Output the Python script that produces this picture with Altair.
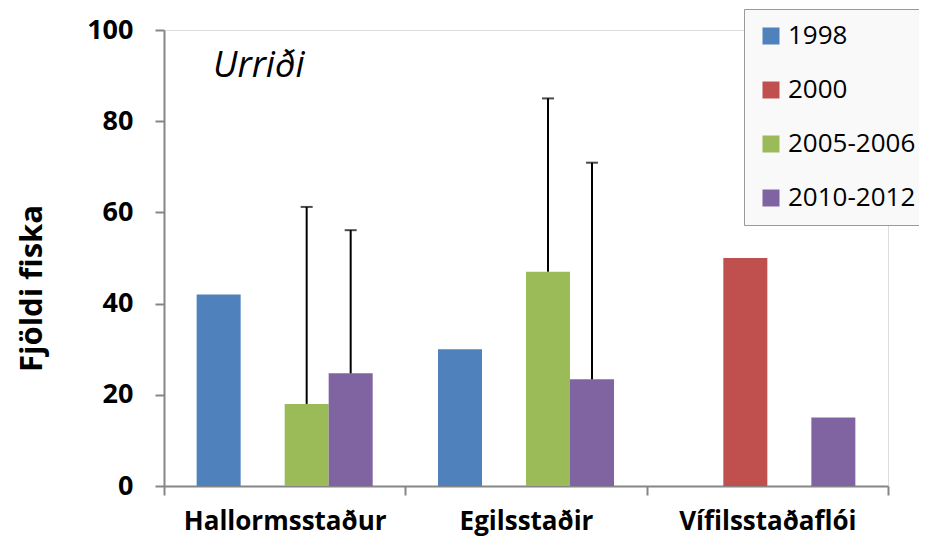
import altair as alt
import pandas as pd

sites = ["Hallormsstaður", "Egilsstaðir", "Vífilsstaðaflói"]
periods = ["1998", "2000", "2005-2006", "2010-2012"]
colors = ["#4F81BD", "#C0504D", "#9BBB59", "#8064A2"]

bar_site = ["Hallormsstaður", "Hallormsstaður", "Hallormsstaður",
            "Egilsstaðir", "Egilsstaðir", "Egilsstaðir",
            "Vífilsstaðaflói", "Vífilsstaðaflói"]
bar_period = ["1998", "2005-2006", "2010-2012",
              "1998", "2005-2006", "2010-2012",
              "2000", "2010-2012"]
bar_value = [42, 18, 24.7, 30, 47, 23.4, 50, 15]
bar_upper = [None, 61.2, 56.1, None, 85.0, 70.9, None, None]

df = pd.DataFrame({"site": bar_site, "period": bar_period,
                   "value": bar_value, "upper": bar_upper})
err = df.dropna(subset=["upper"])

FONT = "Open Sans"

x_enc = alt.X("site:N", sort=sites,
              scale=alt.Scale(domain=sites, paddingInner=0, paddingOuter=0),
              axis=alt.Axis(title=None, labelAngle=0, labelFont=FONT,
                            labelFontSize=26, labelFontWeight="bold",
                            labelColor="black", labelPadding=13, labelLimit=400,
                            tickBand="extent", tickSize=9, tickColor="#868686",
                            tickWidth=2, domainColor="#868686", domainWidth=2))
xo_enc = alt.XOffset("period:N", sort=periods,
                     scale=alt.Scale(domain=periods, paddingInner=0,
                                     paddingOuter=0.742))
y_scale = alt.Scale(domain=[0, 100], nice=False)

bars = alt.Chart(df).mark_bar().encode(
    x=x_enc,
    xOffset=xo_enc,
    y=alt.Y("value:Q", scale=y_scale,
            axis=alt.Axis(title="Fjöldi fiska", values=[0, 20, 40, 60, 80, 100],
                          grid=False, labelFont=FONT, labelFontSize=27,
                          labelFontWeight="bold", labelColor="black",
                          labelPadding=22, tickSize=9, tickColor="#868686",
                          tickWidth=2, domainColor="#868686", domainWidth=2,
                          titleFont=FONT, titleFontSize=31,
                          titleFontWeight="bold", titleColor="black",
                          titleAngle=-90, titleX=-123, titleY=258,
                          titleAlign="center", titleBaseline="alphabetic")),
    color=alt.Color("period:N", sort=periods,
                    scale=alt.Scale(domain=periods, range=colors),
                    legend=alt.Legend(title=None, orient="none",
                                      legendX=580, legendY=-21, padding=14,
                                      fillColor="#f9f9f9", strokeColor="#9a9a9a",
                                      labelFont=FONT, labelFontSize=26,
                                      labelColor="black", symbolType="square",
                                      symbolSize=289, symbolStrokeWidth=0,
                                      rowPadding=28, labelOffset=4,
                                      labelLimit=300)),
)

rules = alt.Chart(err).mark_rule(color="black", strokeWidth=2).encode(
    x=alt.X("site:N", sort=sites), xOffset=alt.XOffset("period:N", sort=periods),
    y=alt.Y("value:Q"), y2="upper:Q",
)

caps = alt.Chart(err).mark_tick(color="black", thickness=2, size=12).encode(
    x=alt.X("site:N", sort=sites), xOffset=alt.XOffset("period:N", sort=periods),
    y=alt.Y("upper:Q"),
)

label = alt.Chart(pd.DataFrame({"t": ["Urriði"], "yv": [92]})).mark_text(
    font=FONT, fontSize=36, fontStyle="italic", align="left",
    baseline="middle", color="black",
).encode(x=alt.value(49), y=alt.Y("yv:Q", scale=y_scale), text="t:N")

chart = alt.layer(bars, rules, caps, label).properties(
    width=724, height=456,
    autosize=alt.AutoSizeParams(type="none"),
    padding={"left": 156, "top": 22, "right": 31, "bottom": 53},
).configure_view(stroke=None).configure(background="white")

chart.save("out.html", embed_options={"renderer": "svg", "actions": False})
